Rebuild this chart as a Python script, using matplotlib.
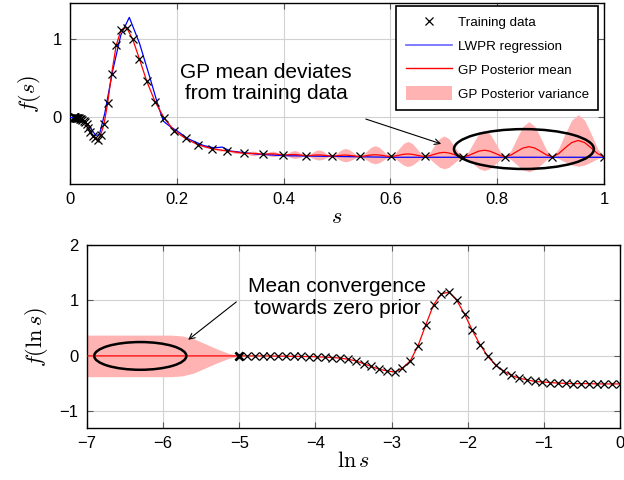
import numpy as np
import matplotlib
matplotlib.use("Agg")
import matplotlib.pyplot as plt
from matplotlib.patches import Ellipse, Patch
from matplotlib.lines import Line2D

plt.rcParams["font.family"] = ["Liberation Sans", "DejaVu Sans"]
plt.rcParams["mathtext.fontset"] = "cm"

# training data, sampled evenly in ln s
train_lns = [-5.000, -4.898, -4.796, -4.694, -4.592, -4.490, -4.388, -4.286, -4.184, -4.082,
             -3.980, -3.878, -3.776, -3.673, -3.571, -3.469, -3.367, -3.265, -3.163, -3.061,
             -2.959, -2.857, -2.755, -2.653, -2.551, -2.449, -2.347, -2.245, -2.143, -2.041,
             -1.939, -1.837, -1.735, -1.633, -1.531, -1.429, -1.327, -1.224, -1.122, -1.020,
             -0.918, -0.816, -0.714, -0.612, -0.510, -0.408, -0.306, -0.204, -0.102, 0.000]
train_f = [0.0, 0.0, 0.0, 0.0, -0.002, -0.003, -0.005, -0.007, -0.01, -0.012,
           -0.016, -0.022, -0.03, -0.04, -0.06, -0.09, -0.14, -0.19, -0.24, -0.27,
           -0.29, -0.22, -0.09, 0.18, 0.56, 0.92, 1.12, 1.15, 1.00, 0.75,
           0.46, 0.20, -0.01, -0.17, -0.27, -0.35, -0.40, -0.43, -0.46, -0.47,
           -0.48, -0.49, -0.495, -0.50, -0.50, -0.50, -0.505, -0.505, -0.505, -0.505]

# LWPR regression (top panel, s domain)
lwpr_s = [0.0, 0.02, 0.035, 0.048, 0.055, 0.065, 0.08, 0.095, 0.111, 0.13, 0.15, 0.165,
          0.175, 0.19, 0.2, 0.22, 0.25, 0.27, 0.285, 0.3, 0.35, 0.4, 0.5, 0.6, 0.8, 1.0]
lwpr_f = [0.0, -0.02, -0.1, -0.23, -0.22, 0.05, 0.6, 1.05, 1.28, 0.95, 0.5, 0.15,
          -0.05, -0.13, -0.17, -0.27, -0.36, -0.39, -0.38, -0.43, -0.47, -0.49, -0.5, -0.51, -0.51, -0.51]

# GP bumps between training points (top panel), from training index 35 on
bump_from = 35
bump_mean = [0.0, 0.0, 0.003, 0.005, 0.008, 0.01, 0.012, 0.015, 0.022, 0.032, 0.055, 0.085, 0.13, 0.21]
bump_sd = [0.01, 0.015, 0.02, 0.03, 0.035, 0.05, 0.065, 0.085, 0.115, 0.16, 0.21, 0.26, 0.32, 0.33]
bump_frac = [0.125, 0.25, 0.375, 0.5, 0.625, 0.75, 0.875]
bump_shape = [0.2, 0.55, 0.87, 1.0, 0.87, 0.55, 0.2]

# GP prior region (bottom panel, ln s < -5)
prior_lns = [-7.0, -5.9, -5.75, -5.6, -5.45, -5.3, -5.15, -5.0]
prior_mean = [0.0, 0.0, 0.0, 0.0, 0.0, 0.0, 0.0, 0.0]
prior_sd = [0.375, 0.375, 0.36, 0.31, 0.22, 0.13, 0.05, 0.0]

train_lns = np.array(train_lns)
train_f = np.array(train_f)
train_s = np.exp(train_lns)

# assemble GP mean / band in s domain
gp_s, gp_m, gp_w = [], [], []
for k in range(len(train_s)):
    gp_s.append(train_s[k]); gp_m.append(train_f[k]); gp_w.append(0.0)
    j = k - bump_from
    if 0 <= j < len(bump_mean):
        for fr, sh in zip(bump_frac, bump_shape):
            gp_s.append(train_s[k] + fr * (train_s[k + 1] - train_s[k]))
            gp_m.append(train_f[k] + fr * (train_f[k + 1] - train_f[k]) + bump_mean[j] * sh)
            gp_w.append(bump_sd[j] * sh)
gp_s, gp_m, gp_w = np.array(gp_s), np.array(gp_m), np.array(gp_w)

band_col = (1.0, 0.7, 0.7)
grid_kw = dict(color="0.82", linewidth=0.8)

fig = plt.figure(figsize=(6.24, 4.8), dpi=100)
ax1 = fig.add_axes([0.1122, 0.6167, 0.8558, 0.3771])
ax2 = fig.add_axes([0.1394, 0.1083, 0.8542, 0.3813])

# ---- top panel
ax1.fill_between(gp_s, gp_m - gp_w, gp_m + gp_w, color=band_col, linewidth=0, zorder=2)
ax1.plot(lwpr_s, lwpr_f, color="blue", linewidth=0.9, zorder=3)
ax1.plot(gp_s, gp_m, color="red", linewidth=0.9, zorder=4)
ax1.plot(train_s, train_f, "x", color="black", markersize=5.5, mew=0.9, zorder=5)
ax1.add_patch(Ellipse((0.85, -0.405), 0.262, 0.51, fill=False, edgecolor="black", linewidth=1.8, zorder=6))
ax1.annotate("", xy=(0.70, -0.35), xytext=(0.549, -0.01),
             arrowprops=dict(arrowstyle="->", color="black", linewidth=0.8))
ax1.text(0.367, 0.44, "GP mean deviates\nfrom training data", ha="center", va="center",
         fontsize=15, linespacing=1.15)
ax1.set_xlim(0, 1)
ax1.set_ylim(-0.852, 1.464)
ax1.set_xticks([0, 0.2, 0.4, 0.6, 0.8, 1])
ax1.set_xticklabels(["0", "0.2", "0.4", "0.6", "0.8", "1"])
ax1.set_yticks([0, 1])
ax1.set_yticklabels(["0", "1"])
ax1.set_xlabel("$s$", fontsize=16, labelpad=0)
ax1.set_ylabel("$f(s)$", fontsize=16, labelpad=7)

handles = [Line2D([], [], linestyle="none", marker="x", color="black", markersize=5.5, mew=0.9),
           Line2D([], [], color=(0.4, 0.4, 1.0), linewidth=1.2),
           Line2D([], [], color="red", linewidth=1.0),
           Patch(facecolor=band_col, edgecolor="none")]
labels = ["Training data", "LWPR regression", "GP Posterior mean", "GP Posterior variance"]
leg = ax1.legend(handles, labels, loc="upper right", bbox_to_anchor=(0.989, 0.984),
                 borderaxespad=0, fontsize=9.6, fancybox=False, framealpha=1,
                 edgecolor="black", handlelength=3.5, handleheight=1.15,
                 handletextpad=0.4, labelspacing=0.72, borderpad=0.7)
leg.get_frame().set_linewidth(1.2)
leg.set_zorder(10)

# ---- bottom panel
ax2.fill_between(prior_lns, np.array(prior_mean) - np.array(prior_sd),
                 np.array(prior_mean) + np.array(prior_sd), color=band_col, linewidth=0, zorder=2)
ax2.plot(np.concatenate([prior_lns, train_lns]), np.concatenate([prior_mean, train_f]),
         color="red", linewidth=0.9, zorder=4)
ax2.plot(train_lns, train_f, "x", color="black", markersize=5.5, mew=0.9, zorder=5)
ax2.plot(train_lns[:1], train_f[:1], "x", color="black", markersize=5.5, mew=2.0, zorder=5)
ax2.add_patch(Ellipse((-6.30, 0.0), 1.21, 0.50, fill=False, edgecolor="black", linewidth=1.8, zorder=6))
ax2.annotate("", xy=(-5.70, 0.26), xytext=(-5.01, 1.005),
             arrowprops=dict(arrowstyle="->", color="black", linewidth=0.8))
ax2.text(-3.716, 1.055, "Mean convergence\ntowards zero prior", ha="center", va="center",
         fontsize=15, linespacing=1.15)
ax2.set_xlim(-7, 0)
ax2.set_ylim(-1.3, 2.0)
ax2.set_xticks(range(-7, 1))
ax2.set_yticks([-1, 0, 1, 2])
ax2.set_xlabel(r"$\ln s$", fontsize=16, labelpad=0)
ax2.set_ylabel(r"$f(\ln s)$", fontsize=16, labelpad=7)

for ax in (ax1, ax2):
    ax.grid(True, **grid_kw)
    ax.set_axisbelow(True)
    ax.tick_params(direction="in", top=True, right=True, length=4, color="0.35",
                   labelsize=12, pad=6)
    for sp in ax.spines.values():
        sp.set_linewidth(1.0)
        sp.set_color("black")

fig.savefig("out.png", dpi=100)
